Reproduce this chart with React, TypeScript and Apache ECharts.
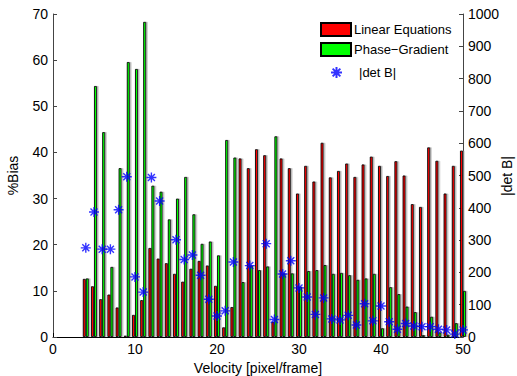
import React, { useEffect, useRef } from "react";
import * as echarts from "echarts";

const velocities = [4,5,6,7,8,9,10,11,12,13,14,15,16,17,18,19,20,21,22,23,24,25,26,27,28,29,30,31,32,33,34,35,36,37,38,39,40,41,42,43,44,45,46,47,48,49,50];
const linearBias = [12.6,11.0,8.2,9.2,6.4,0.3,4.8,8.0,19.3,17.0,16.0,13.7,12.0,14.8,16.5,15.5,11.1,2.1,6.5,38.7,36.6,40.7,39.4,3.3,38.7,36.6,31.1,37.1,33.7,42.1,34.6,36.0,37.6,34.7,37.4,39.1,37.1,34.9,38.1,35.0,28.8,28.2,41.1,38.2,31.1,37.1,40.4];
const phaseBias = [12.7,54.4,44.4,15.2,36.6,59.6,58.1,68.3,32.8,31.5,25.5,30.0,34.7,26.6,20.2,20.7,17.7,42.7,38.9,11.9,15.5,14.5,15.3,43.5,13.8,13.8,10.9,14.3,14.5,15.6,13.7,13.9,13.4,12.4,12.7,13.7,1.9,10.8,9.3,6.6,5.4,0.4,4.4,1.0,0.5,3.0,10.0];
const detVel = [4,5,6,7,8,9,10,11,12,13,15,16,17,18,19,20,21,22,24,26,27,28,29,30,31,32,33,34,35,36,37,38,39,40,41,42,43,44,45,46,47,48,49,50];
const detB = [276,387,272,272,394,496,186,139,494,421,301,240,254,191,117,65,81,232,221,289,54,195,236,152,124,70,121,56,53,67,37,103,50,96,47,24,42,34,32,32,24,22,9,22];

const FONT = "Liberation Sans, Arial, Helvetica, sans-serif";
const ASTERISK = "path://M5,0L5,10M0,5L10,5M1.5,1.5L8.5,8.5M1.5,8.5L8.5,1.5";

export default function App() {
  const ref = useRef<HTMLDivElement>(null);
  useEffect(() => {
    if (!ref.current) return;
    const chart = echarts.init(ref.current, null, { renderer: "svg" });
    const barStyle = (c: string) => ({
      color: c,
      borderColor: "#000",
      borderWidth: 0.9,
      shadowColor: "rgba(150,150,150,0.7)",
      shadowOffsetX: 1.5,
      shadowBlur: 0,
    });
    chart.setOption({
      animation: false,
      textStyle: { fontFamily: FONT },
      grid: { left: 53, right: 54, top: 14, bottom: 39, outerBoundsMode: "none", containLabel: false },
      graphic: [
        {
          type: "text",
          x: 507,
          y: 176,
          rotation: Math.PI / 2,
          style: { text: "|det B|", font: "14px " + FONT, fill: "#000", align: "center", verticalAlign: "middle" },
        },
      ],
      legend: [
        {
          data: [
            { name: "Linear Equations", icon: "rect" },
            { name: "Phase\u2212Gradient", icon: "rect" },
          ],
          orient: "vertical",
          left: 320,
          top: 22,
          itemWidth: 30,
          itemHeight: 13,
          itemGap: 5,
          textStyle: { fontFamily: FONT, fontSize: 13, color: "#000", padding: [0, 0, 0, -2] },
          padding: 0,
        },
        {
          data: ["|det B|"],
          orient: "vertical",
          left: 330,
          top: 66,
          itemWidth: 11,
          itemHeight: 11,
          itemGap: 20,
          textStyle: { fontFamily: FONT, fontSize: 13, color: "#000", padding: [0, 0, 0, 12] },
          padding: 0,
        },
      ],
      xAxis: {
        type: "value",
        min: 0,
        max: 50,
        interval: 10,
        name: "Velocity [pixel/frame]",
        nameLocation: "middle",
        nameGap: 24,
        nameTextStyle: { fontFamily: FONT, fontSize: 14, color: "#000" },
        axisLine: { show: true, onZero: false, lineStyle: { color: "#000", width: 1 } },
        axisTick: { show: true, inside: true, length: 4, lineStyle: { color: "#000" } },
        axisLabel: { fontFamily: FONT, fontSize: 14, color: "#000", margin: 5 },
        splitLine: { show: false },
      },
      yAxis: [
        {
          type: "value",
          min: 0,
          max: 70,
          interval: 10,
          name: "%Bias",
          nameLocation: "middle",
          nameGap: 33,
          nameTextStyle: { fontFamily: FONT, fontSize: 14, color: "#000" },
          axisLine: { show: true, lineStyle: { color: "#444", width: 1 } },
          axisTick: { show: true, inside: true, length: 4, lineStyle: { color: "#444" } },
          axisLabel: { fontFamily: FONT, fontSize: 14, color: "#000", margin: 5 },
          splitLine: { show: false },
        },
        {
          type: "value",
          min: 0,
          max: 1000,
          interval: 100,
          axisLine: { show: true, lineStyle: { color: "#444", width: 1 } },
          axisTick: { show: true, inside: true, length: 4, lineStyle: { color: "#444" } },
          axisLabel: { fontFamily: FONT, fontSize: 14, color: "#000", margin: 5, formatter: (v: number) => String(v) },
          splitLine: { show: false },
        },
      ],
      series: [
        {
          name: "Linear Equations",
          type: "bar",
          yAxisIndex: 0,
          barWidth: 3,
          barGap: "0%",
          itemStyle: barStyle("#ff0000"),
          data: velocities.map((v, i) => [v, linearBias[i]]),
        },
        {
          name: "Phase\u2212Gradient",
          type: "bar",
          yAxisIndex: 0,
          barWidth: 3,
          barGap: "0%",
          itemStyle: barStyle("#00ff00"),
          data: velocities.map((v, i) => [v, phaseBias[i]]),
        },
        {
          name: "|det B|",
          type: "scatter",
          yAxisIndex: 1,
          symbol: ASTERISK,
          symbolSize: 10,
          itemStyle: { color: "rgba(0,0,0,0)", borderColor: "#0000ff", borderWidth: 1.4 },
          data: detVel.map((v, i) => [v, detB[i]]),
          z: 5,
        },
      ],
    });
    return () => chart.dispose();
  }, []);
  return <div ref={ref} style={{ width: 517, height: 376, position: "absolute", left: 0, top: 0, background: "#fff" }} />;
}
